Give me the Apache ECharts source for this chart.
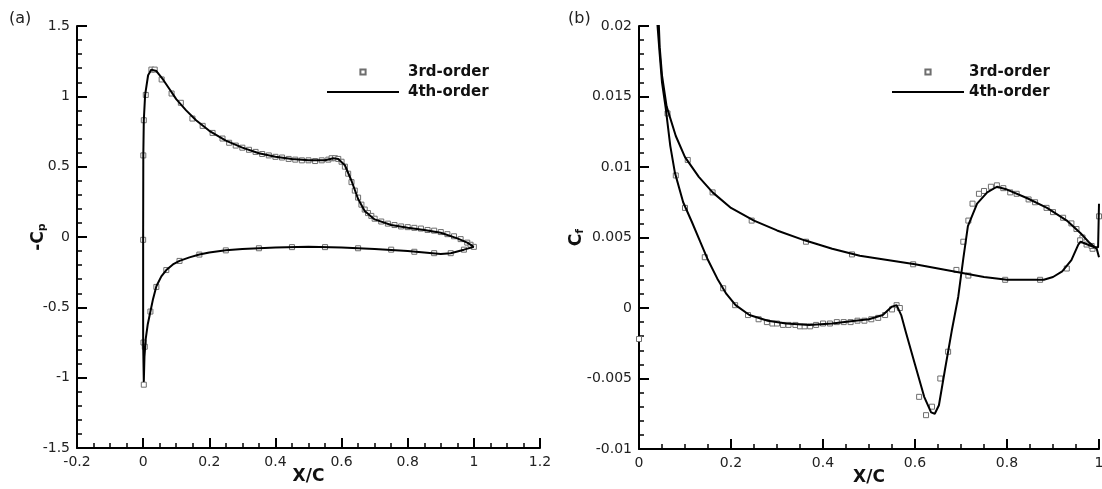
<!DOCTYPE html>
<html>
<head>
<meta charset="utf-8">
<script src="https://cdn.jsdelivr.net/npm/echarts@6.0.0/dist/echarts.min.js"></script>
<style>
html,body{margin:0;padding:0;background:#fff;}
#chart{width:1102px;height:489px;}
</style>
</head>
<body>
<div id="chart"></div>
<script>
// ---------- (a) pressure coefficient, -Cp vs X/C ----------
// 4th-order line: lower surface (TE -> LE) then upper surface (LE -> TE)
const cpLineX = [1.0,0.97,0.93,0.9,0.85,0.8,0.7,0.6,0.5,0.4,0.3,0.25,0.2,0.17,0.14,0.11,0.09,0.07,0.055,0.04,0.03,0.022,0.014,0.008,0.004,0.002,
                 0.001,0.0,0.0,0.0005,0.002,0.006,0.015,0.025,0.04,0.06,0.08,0.1,0.13,0.16,0.2,0.25,0.3,0.35,0.4,0.45,0.5,0.55,0.575,0.59,0.61,0.63,0.65,0.67,0.7,0.75,0.8,0.85,0.9,0.95,0.98,1.0];
const cpLineY = [-0.07,-0.09,-0.115,-0.12,-0.11,-0.1,-0.085,-0.075,-0.07,-0.075,-0.085,-0.095,-0.11,-0.125,-0.145,-0.17,-0.195,-0.235,-0.28,-0.35,-0.44,-0.53,-0.62,-0.72,-0.85,-1.03,
                 -1.02,-0.75,0.0,0.58,0.83,1.01,1.15,1.19,1.18,1.12,1.05,0.98,0.9,0.83,0.755,0.685,0.635,0.595,0.57,0.555,0.545,0.545,0.56,0.555,0.51,0.4,0.27,0.185,0.125,0.085,0.065,0.05,0.03,-0.01,-0.04,-0.07];
// 3rd-order markers, upper surface
const cpUpX = [0.0,0.0005,0.002,0.008,0.025,0.035,0.056,0.086,0.114,0.149,0.18,0.21,0.24,0.26,0.28,0.30,0.32,0.34,0.36,0.38,0.40,0.42,0.44,0.46,0.48,0.50,0.52,0.54,0.56,0.57,0.58,0.59,0.60,0.61,0.62,0.63,0.64,0.65,0.66,0.67,0.68,0.69,0.70,0.72,0.74,0.76,0.78,0.80,0.82,0.84,0.86,0.88,0.90,0.92,0.94,0.96,0.98,0.99,1.0];
const cpUpY = [-0.02,0.58,0.83,1.01,1.19,1.19,1.12,1.02,0.954,0.842,0.79,0.74,0.70,0.67,0.65,0.635,0.62,0.605,0.59,0.58,0.57,0.565,0.555,0.55,0.545,0.545,0.54,0.545,0.55,0.56,0.56,0.555,0.535,0.5,0.45,0.39,0.33,0.28,0.23,0.195,0.17,0.15,0.13,0.11,0.095,0.085,0.075,0.07,0.065,0.06,0.05,0.045,0.035,0.02,0.005,-0.015,-0.04,-0.055,-0.07];
// 3rd-order markers, lower surface
const cpLoX = [0.002,0.001,0.005,0.022,0.04,0.07,0.11,0.17,0.25,0.35,0.45,0.55,0.65,0.75,0.82,0.88,0.93,0.97];
const cpLoY = [-1.05,-0.75,-0.78,-0.53,-0.355,-0.235,-0.17,-0.125,-0.095,-0.08,-0.072,-0.072,-0.08,-0.09,-0.105,-0.115,-0.115,-0.09];

// ---------- (b) skin friction, Cf vs X/C ----------
const cfUpLineX = [0.038,0.045,0.05,0.058,0.068,0.078,0.096,0.115,0.133,0.15,0.17,0.19,0.21,0.24,0.28,0.32,0.37,0.42,0.47,0.5,0.53,0.55,0.56,0.57,0.58,0.6,0.62,0.635,0.643,0.652,0.665,0.68,0.694,0.705,0.715,0.735,0.757,0.778,0.8,0.843,0.887,0.93,0.96,0.98,0.995,1.0];
const cfUpLineY = [0.021,0.018,0.016,0.0142,0.0115,0.0096,0.0075,0.0061,0.0047,0.0034,0.0021,0.001,0.0002,-0.0005,-0.0009,-0.0011,-0.0012,-0.0011,-0.0009,-0.0008,-0.0005,0.0001,0.0002,-0.0005,-0.0017,-0.004,-0.0063,-0.0074,-0.0075,-0.0069,-0.0044,-0.0016,0.0008,0.0035,0.0058,0.0074,0.0082,0.0086,0.0084,0.0078,0.0071,0.0062,0.0053,0.0046,0.0042,0.0036];
const cfLoLineX = [0.042,0.045,0.05,0.06,0.08,0.1,0.13,0.16,0.2,0.25,0.3,0.36,0.42,0.48,0.54,0.6,0.65,0.7,0.75,0.8,0.85,0.88,0.9,0.92,0.94,0.955,0.96,0.975,0.99,0.998,1.0];
const cfLoLineY = [0.021,0.0185,0.0165,0.0143,0.0122,0.0107,0.0093,0.0082,0.0071,0.0062,0.0055,0.0048,0.0042,0.0037,0.0034,0.0031,0.0028,0.0025,0.0022,0.002,0.002,0.002,0.0022,0.0026,0.0034,0.0045,0.0047,0.0045,0.0043,0.0043,0.0074];
const cfUpX = [0.0,0.062,0.08,0.1,0.143,0.183,0.209,0.237,0.26,0.278,0.29,0.30,0.313,0.325,0.34,0.35,0.36,0.372,0.385,0.4,0.415,0.43,0.445,0.46,0.475,0.49,0.505,0.52,0.535,0.55,0.56,0.567,0.609,0.624,0.637,0.655,0.672,0.69,0.705,0.716,0.725,0.739,0.75,0.765,0.778,0.792,0.807,0.821,0.847,0.861,0.886,0.9,0.922,0.94,0.951,0.964,0.973,0.986,1.0];
const cfUpY = [-0.0022,0.0138,0.0094,0.0071,0.0036,0.0014,0.0002,-0.0005,-0.0008,-0.001,-0.0011,-0.0011,-0.0012,-0.0012,-0.0012,-0.0013,-0.0013,-0.0013,-0.0012,-0.0011,-0.0011,-0.001,-0.001,-0.001,-0.0009,-0.0009,-0.0008,-0.0007,-0.0005,-0.0001,0.0002,0.0,-0.0063,-0.0076,-0.007,-0.005,-0.0031,0.0027,0.0047,0.0062,0.0074,0.0081,0.0083,0.0086,0.0087,0.0085,0.0082,0.0081,0.0077,0.0075,0.0071,0.0068,0.0064,0.006,0.0056,0.005,0.0045,0.0042,0.0065];
const cfLoX = [0.106,0.16,0.245,0.363,0.463,0.596,0.716,0.796,0.872,0.93,0.959,0.984];
const cfLoY = [0.0105,0.0082,0.0062,0.0047,0.0038,0.0031,0.0023,0.002,0.002,0.0028,0.0048,0.0044];

// ---------- tick settings ----------
const cpXTicks = {min: -0.2, max: 1.2, step: 0.2};
const cpYTicks = {min: -1.5, max: 1.5, step: 0.5};
const cfXTicks = {min: 0, max: 1, step: 0.2};
const cfYTicks = {min: -0.01, max: 0.02, step: 0.005};

const zip = (xs, ys) => xs.map((x, i) => [x, ys[i]]);

const FONT = 'DejaVu Sans';
const axisCommon = (t, minorSplit) => ({
  type: 'value',
  min: t.min, max: t.max, interval: t.step,
  nameMoveOverlap: false,
  axisLine: {show: true, onZero: false, lineStyle: {color: '#000', width: 2}},
  axisTick: {show: true, inside: true, length: 10, lineStyle: {color: '#000', width: 2}},
  minorTick: {show: true, splitNumber: minorSplit, length: 5, lineStyle: {color: '#000', width: 1.5}},
  splitLine: {show: false},
  minorSplitLine: {show: false},
  axisLabel: {show: true, color: '#222', fontFamily: FONT, fontSize: 14, margin: 7, showMinLabel: true, showMaxLabel: true}
});

const markerStyle = {color: '#fff', borderColor: '#6e6e6e', borderWidth: 1};
const lineStyle4 = {color: '#000', width: 2};

const markerSeries = (name, data, xi, yi) => ({
  name, type: 'line', xAxisIndex: xi, yAxisIndex: yi, data,
  symbol: 'rect', symbolSize: 5, showSymbol: true, showAllSymbol: true,
  lineStyle: {opacity: 0, width: 0}, itemStyle: markerStyle, z: 2, silent: true, clip: true
});
const lineSeries = (name, data, xi, yi) => ({
  name, type: 'line', xAxisIndex: xi, yAxisIndex: yi, data,
  symbol: 'none', showSymbol: false, lineStyle: lineStyle4, itemStyle: {color: '#000'}, z: 3, silent: true, clip: true
});

const legendCfg = (left, padLeft) => ({
  orient: 'vertical', left: left, top: 64, padding: 0,
  itemWidth: 72, itemHeight: 6.5, itemGap: 4,
  textStyle: {fontFamily: FONT, fontWeight: 'bold', fontSize: 15, color: '#111', lineHeight: 16, padding: [0, 0, 0, padLeft]},
  selectedMode: false,
  data: [
    {name: '3rd-order'},
    {name: '4th-order', itemStyle: {opacity: 0}}
  ]
});

const chart = echarts.init(document.getElementById('chart'), null, {renderer: 'canvas'});
chart.setOption({
  animation: false,
  backgroundColor: '#fff',
  title: [
    {text: '(a)', left: 9, top: 11, padding: 0, textStyle: {fontFamily: FONT, fontSize: 16, fontWeight: 'normal', color: '#222'}},
    {text: '(b)', left: 568, top: 11, padding: 0, textStyle: {fontFamily: FONT, fontSize: 16, fontWeight: 'normal', color: '#222'}}
  ],
  legend: [legendCfg(326, 4), legendCfg(891, 0)],
  grid: [
    {left: 77, top: 26, width: 463, height: 422, outerBoundsMode: 'none', containLabel: false},
    {left: 639, top: 26, width: 460, height: 423, outerBoundsMode: 'none', containLabel: false}
  ],
  xAxis: [
    Object.assign(axisCommon(cpXTicks, 4), {gridIndex: 0, position: 'bottom', name: 'X/C', nameLocation: 'middle', nameGap: 20,
      nameTextStyle: {fontFamily: FONT, fontWeight: 'bold', fontSize: 17, color: '#111', verticalAlign: 'top'}}),
    Object.assign(axisCommon(cfXTicks, 4), {gridIndex: 1, position: 'bottom', name: 'X/C', nameLocation: 'middle', nameGap: 20,
      nameTextStyle: {fontFamily: FONT, fontWeight: 'bold', fontSize: 17, color: '#111', verticalAlign: 'top'}})
  ],
  yAxis: [
    Object.assign(axisCommon(cpYTicks, 5), {gridIndex: 0, position: 'left', name: '{m|-C}{s|p}', nameLocation: 'middle', nameRotate: 90, nameGap: 29,
      nameTextStyle: {rich: {
        m: {fontFamily: FONT, fontWeight: 'bold', fontSize: 17, color: '#111'},
        s: {fontFamily: FONT, fontWeight: 'bold', fontSize: 11, color: '#111', verticalAlign: 'bottom', padding: [8, 0, 0, 0]}
      }}}),
    Object.assign(axisCommon(cfYTicks, 5), {gridIndex: 1, position: 'left', name: '{m|C}{s|f}', nameLocation: 'middle', nameRotate: 90, nameGap: 53,
      nameTextStyle: {rich: {
        m: {fontFamily: FONT, fontWeight: 'bold', fontSize: 17, color: '#111'},
        s: {fontFamily: FONT, fontWeight: 'bold', fontSize: 11, color: '#111', verticalAlign: 'bottom', padding: [8, 0, 0, 0]}
      }}})
  ],
  series: [
    markerSeries('3rd-order', zip(cpUpX, cpUpY), 0, 0),
    markerSeries('3rd-order', zip(cpLoX, cpLoY), 0, 0),
    lineSeries('4th-order', zip(cpLineX, cpLineY), 0, 0),
    markerSeries('3rd-order', zip(cfUpX, cfUpY), 1, 1),
    markerSeries('3rd-order', zip(cfLoX, cfLoY), 1, 1),
    lineSeries('4th-order', zip(cfUpLineX, cfUpLineY), 1, 1),
    lineSeries('4th-order', zip(cfLoLineX, cfLoLineY), 1, 1)
  ]
});
</script>
</body>
</html>
